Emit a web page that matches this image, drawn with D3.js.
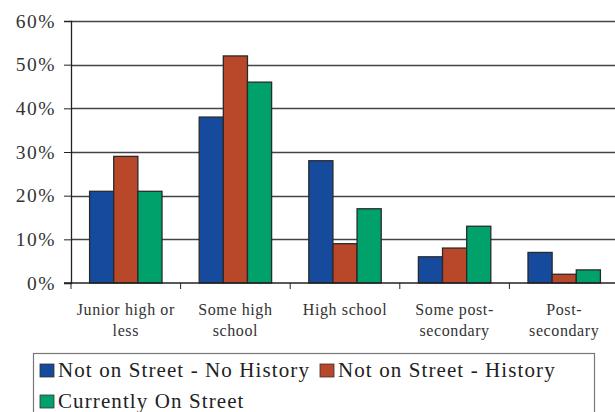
<!DOCTYPE html>
<html>
<head>
<meta charset="utf-8">
<script src="https://cdn.jsdelivr.net/npm/d3@7"></script>
<style>
  body { margin: 0; background: #fff; }
  svg { display: block; }
  svg text { font-family: "Liberation Serif", "DejaVu Serif", serif; }
</style>
</head>
<body>
<svg id="chart"></svg>
<script>
var categories = [["Junior high or", "less"], ["Some high", "school"], ["High school"], ["Some post-", "secondary"], ["Post-", "secondary"]];
var seriesNames = ["Not on Street - No History", "Not on Street - History", "Currently On Street"];
var noHistoryVals = [21, 38, 28, 6, 7];
var historyVals = [29, 52, 9, 8, 2];
var onStreetVals = [21, 46, 17, 13, 3];
var yTicks = [0, 10, 20, 30, 40, 50, 60];

var colors = ["#164a9d", "#b9472a", "#00a16b"];
var series = [noHistoryVals, historyVals, onStreetVals];

var width = 615, height = 412;
var margin = { left: 71, top: 21, right: -4, bottom: 129 };
var serif = "Liberation Serif";

var svg = d3.select("#chart").attr("width", width).attr("height", height);

var x = d3.scaleBand()
  .domain(d3.range(categories.length))
  .range([margin.left, width - margin.right])
  .paddingInner(0).paddingOuter(0);

var xInner = d3.scaleBand()
  .domain(d3.range(series.length))
  .range([0, x.bandwidth()])
  .paddingOuter(0.77).paddingInner(0);

var y = d3.scaleLinear()
  .domain([0, 60])
  .range([height - margin.bottom, margin.top]);

/* gridlines */
svg.append("g")
  .selectAll("line")
  .data(yTicks.slice(1)).enter()
  .append("line")
  .attr("x1", margin.left).attr("x2", width)
  .attr("y1", d => Math.round(y(d)) + 0.5).attr("y2", d => Math.round(y(d)) + 0.5)
  .attr("stroke", "#444").attr("stroke-width", 1.3);

/* bars */
var groups = svg.append("g")
  .selectAll("g")
  .data(series).enter()
  .append("g")
  .attr("fill", (d, i) => colors[i]);

groups.selectAll("rect")
  .data((d, si) => d.map((v, ci) => ({ v: v, ci: ci, si: si }))).enter()
  .append("rect")
  .attr("x", d => x(d.ci) + xInner(d.si))
  .attr("y", d => y(d.v))
  .attr("width", xInner.bandwidth())
  .attr("height", d => y(0) - y(d.v))
  .attr("stroke", "#2a2a2a")
  .attr("stroke-width", 1.3);

/* y axis */
var yAxis = svg.append("g")
  .attr("transform", "translate(" + margin.left + ",0)")
  .call(d3.axisLeft(y).tickValues(yTicks).tickFormat(d => d + "%").tickSize(7).tickPadding(8));
yAxis.select(".domain").attr("stroke", "#222").attr("stroke-width", 1.3);
yAxis.selectAll(".tick line").attr("stroke", "#222");
yAxis.selectAll("text")
  .attr("font-size", "19.5px")
  .attr("font-family", serif)
  .attr("letter-spacing", "1.5px")
  .attr("fill", "#333");

/* x axis */
var xAxis = svg.append("g")
  .attr("transform", "translate(0," + y(0) + ")");
xAxis.append("line")
  .attr("x1", margin.left - 7).attr("x2", width)
  .attr("stroke", "#222").attr("stroke-width", 1.3);
xAxis.selectAll(".xtick")
  .data(d3.range(categories.length + 1)).enter()
  .append("line")
  .attr("x1", d => margin.left + d * x.bandwidth())
  .attr("x2", d => margin.left + d * x.bandwidth())
  .attr("y1", 0).attr("y2", 6)
  .attr("stroke", "#222");

xAxis.selectAll(".xlabel")
  .data(categories).enter()
  .append("text")
  .attr("text-anchor", "middle")
  .attr("font-family", serif)
  .attr("font-size", "16px")
  .attr("letter-spacing", "0.6px")
  .attr("fill", "#333")
  .each(function (lines, i) {
    d3.select(this).selectAll("tspan")
      .data(lines).enter()
      .append("tspan")
      .attr("x", x(i) + x.bandwidth() / 2)
      .attr("y", (d, j) => 32 + j * 21)
      .text(d => d);
  });

/* legend */
var legend = svg.append("g");
legend.append("rect")
  .attr("x", 33.5).attr("y", 353.5)
  .attr("width", 561).attr("height", 70)
  .attr("fill", "#fff").attr("stroke", "#777").attr("stroke-width", 1.2);

var legendPos = [[40, 377], [320, 377], [40, 408]];
var items = legend.selectAll(".item")
  .data(seriesNames).enter()
  .append("g")
  .attr("transform", (d, i) => "translate(" + legendPos[i][0] + "," + legendPos[i][1] + ")");
items.append("rect")
  .attr("x", 0).attr("y", -13)
  .attr("width", 14).attr("height", 13)
  .attr("fill", (d, i) => colors[i])
  .attr("stroke", "#333").attr("stroke-width", 0.8);
items.append("text")
  .attr("x", 18).attr("y", 0)
  .attr("font-family", serif)
  .attr("font-size", "21px")
  .attr("letter-spacing", "1.1px")
  .attr("fill", "#222")
  .text(d => d);
</script>
</body>
</html>
